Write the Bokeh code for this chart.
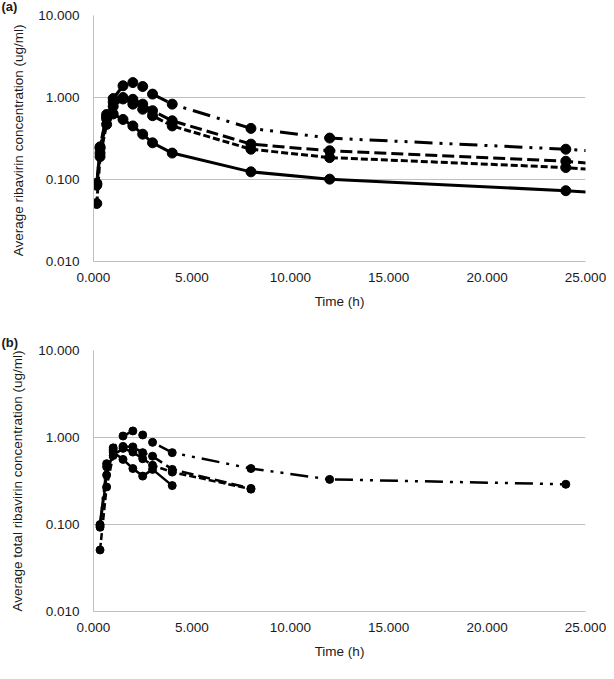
from bokeh.plotting import figure
from bokeh.layouts import column
from bokeh.models import Range1d, FixedTicker, PrintfTickFormatter, Title
from bokeh.embed import file_html
from bokeh.resources import INLINE

# ---------------- data ----------------
x_ticks = [0, 5, 10, 15, 20, 25]
y_ticks = [0.01, 0.1, 1, 10]

# panel (a)
time_a = [0.167, 0.333, 0.667, 1, 1.5, 2, 2.5, 3, 4, 8, 12, 24, 48]
a_dashdotdot = [0.090, 0.25, 0.62, 0.97, 1.39, 1.52, 1.36, 1.10, 0.83, 0.42, 0.32, 0.234, 0.100]
a_longdash = [0.085, 0.24, 0.58, 0.88, 1.00, 0.95, 0.83, 0.69, 0.52, 0.27, 0.224, 0.167, 0.050]
a_shortdash = [0.051, 0.19, 0.47, 0.78, 0.96, 0.83, 0.72, 0.60, 0.45, 0.234, 0.185, 0.140, 0.049]
a_solid = [0.088, 0.21, 0.55, 0.63, 0.54, 0.45, 0.357, 0.28, 0.21, 0.124, 0.101, 0.073, 0.030]

# panel (b)
time_b = [0.333, 0.667, 1, 1.5, 2, 2.5, 3, 4, 8, 12, 24]
b_dashdotdot = [0.100, 0.50, 0.76, 1.04, 1.19, 1.07, 0.88, 0.67, 0.44, 0.33, 0.29]
b_longdash = [0.097, 0.46, 0.72, 0.79, 0.78, 0.67, 0.61, 0.43, 0.26]
b_shortdash = [0.051, 0.27, 0.62, 0.75, 0.68, 0.57, 0.48, 0.40, 0.255]
b_solid = [0.093, 0.37, 0.68, 0.56, 0.44, 0.36, 0.43, 0.28]

# ---------------- style ----------------
FONT = "Liberation Sans"
TXT = "#1a1a1a"
GRID = "#bfbfbf"
DASHES = {"dashdotdot": "18 7 3 7 3 7", "longdash": "12 5", "shortdash": "7 3", "solid": "solid"}


def make_panel(height, top, bottom, left, ylabel, tag, tag_standoff, tag_pad, series, lw, msize, ylab_standoff):
    p = figure(width=614, height=height, y_axis_type="log",
               x_range=Range1d(0, 25), y_range=Range1d(0.01, 10),
               output_backend="svg", toolbar_location=None,
               min_border_left=left, min_border_right=21,
               min_border_top=top, min_border_bottom=bottom)
    p.outline_line_color = None
    p.background_fill_color = "white"
    p.border_fill_color = "white"

    p.title = Title(text=tag, align="left", offset=-left + tag_pad, standoff=tag_standoff,
                    text_font=FONT, text_font_size="13px", text_font_style="bold",
                    text_color=TXT)

    p.xgrid.visible = False
    p.ygrid.ticker = FixedTicker(ticks=y_ticks)
    p.ygrid.grid_line_color = GRID
    p.ygrid.grid_line_width = 1
    p.ygrid.minor_grid_line_color = None

    xa = p.xaxis[0]
    xa.ticker = FixedTicker(ticks=x_ticks)
    xa.formatter = PrintfTickFormatter(format="%.3f")
    xa.axis_label = "Time (h)"
    ya = p.yaxis[0]
    ya.ticker = FixedTicker(ticks=y_ticks)
    ya.formatter = PrintfTickFormatter(format="%.3f")
    ya.axis_label = ylabel

    for ax in (xa, ya):
        ax.axis_line_color = GRID
        ax.axis_line_width = 1
        ax.major_tick_line_color = None
        ax.minor_tick_line_color = None
        ax.major_tick_out = 0
        ax.major_tick_in = 0
        ax.minor_tick_out = 0
        ax.major_label_text_font = FONT
        ax.major_label_text_font_size = "13.5px"
        ax.major_label_text_color = TXT
        ax.axis_label_text_font = FONT
        ax.axis_label_text_font_size = "13.5px"
        ax.axis_label_text_font_style = "normal"
        ax.axis_label_text_color = TXT
    xa.major_label_standoff = 11
    xa.axis_label_standoff = 9
    ya.major_label_standoff = 14
    ya.axis_label_standoff = ylab_standoff

    for t, vals, style in series:
        tt = t[:len(vals)]
        p.line(tt, vals, line_color="black", line_width=lw, line_dash=DASHES[style])
        p.scatter(tt, vals, size=msize, marker="circle", fill_color="black", line_color="black")
    return p


pa = make_panel(338, 23, 69, 94, "Average  ribavirin concentration (ug/ml)", "(a)", 4, 2,
                [(time_a, a_dashdotdot, "dashdotdot"), (time_a, a_longdash, "longdash"),
                 (time_a, a_shortdash, "shortdash"), (time_a, a_solid, "solid")],
                3, 10, 9)
pb = make_panel(333, 20, 52, 101, "Average total ribavirin concentration (ug/ml)", "(b)", 2, 9,
                [(time_b, b_dashdotdot, "dashdotdot"), (time_b, b_longdash, "longdash"),
                 (time_b, b_shortdash, "shortdash"), (time_b, b_solid, "solid")],
                2.5, 8, 10)

layout = column(pa, pb, spacing=0, margin=(-8, 0, 0, -8))
open("out.html", "w").write(file_html(layout, INLINE))
